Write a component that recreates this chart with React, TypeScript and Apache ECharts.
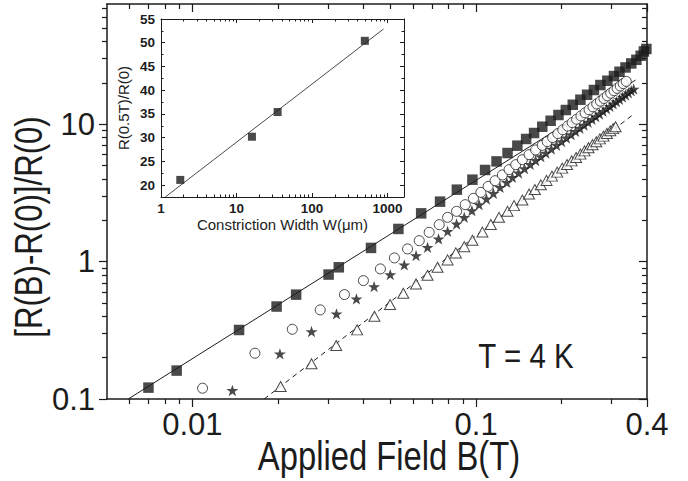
import React, { useEffect, useRef } from "react";
import * as echarts from "echarts";

// ---------- Main panel: applied field B (T) vs [R(B)-R(0)]/R(0) ----------
const squareB = [0.007, 0.0088, 0.0146, 0.0198, 0.0232, 0.0302, 0.0328, 0.0426, 0.0532, 0.064, 0.0746, 0.0855, 0.097, 0.1075, 0.118, 0.129, 0.1397, 0.15, 0.16, 0.171, 0.183, 0.195, 0.207, 0.219, 0.233, 0.246, 0.26, 0.274, 0.29, 0.306, 0.32, 0.336, 0.352, 0.367, 0.38, 0.39, 0.398];
const squareR = [0.121, 0.161, 0.318, 0.471, 0.575, 0.805, 0.909, 1.258, 1.729, 2.245, 2.732, 3.339, 3.948, 4.645, 5.363, 6.17, 6.98, 7.81, 8.63, 9.59, 10.6, 11.67, 12.69, 13.86, 15.08, 16.39, 17.74, 19.28, 20.72, 22.41, 24.09, 25.89, 27.69, 29.44, 31.5, 33.84, 35.3];

const circleB = [0.01086, 0.01661, 0.02249, 0.02821, 0.03434, 0.04005, 0.04597, 0.0515, 0.0573, 0.063, 0.0683, 0.0741, 0.0793, 0.0853, 0.0915, 0.0978, 0.1039, 0.1102, 0.1166, 0.1237, 0.1306, 0.1379, 0.1455, 0.1536, 0.162, 0.171, 0.178, 0.186, 0.194, 0.202, 0.21, 0.218, 0.226, 0.234, 0.242, 0.25, 0.258, 0.266, 0.274, 0.282, 0.29, 0.298, 0.306, 0.314, 0.322, 0.33, 0.338];
const circleR = [0.1198, 0.2153, 0.3218, 0.4454, 0.5754, 0.7275, 0.885, 1.064, 1.237, 1.421, 1.634, 1.858, 2.1, 2.322, 2.597, 2.887, 3.192, 3.528, 3.882, 4.271, 4.669, 5.076, 5.52, 6.0, 6.494, 7.014, 7.47, 8.0, 8.55, 9.11, 9.69, 10.27, 10.87, 11.49, 12.11, 12.74, 13.39, 14.05, 14.72, 15.4, 16.1, 16.8, 17.52, 18.24, 18.98, 19.73, 20.49];

const starB = [0.01383, 0.02034, 0.02629, 0.03219, 0.03785, 0.04368, 0.0498, 0.0558, 0.0614, 0.0674, 0.0737, 0.0793, 0.0853, 0.0908, 0.0966, 0.1024, 0.1087, 0.115, 0.1214, 0.1282, 0.1342, 0.141, 0.148, 0.155, 0.162, 0.169, 0.176, 0.184, 0.192, 0.2, 0.208, 0.216, 0.224, 0.232, 0.24, 0.248, 0.256, 0.264, 0.272, 0.28, 0.288, 0.296, 0.304, 0.312, 0.32, 0.328, 0.336, 0.344, 0.352, 0.359];
const starR = [0.1153, 0.2132, 0.3097, 0.4166, 0.5355, 0.658, 0.8045, 0.946, 1.106, 1.27, 1.463, 1.661, 1.88, 2.1, 2.349, 2.597, 2.858, 3.139, 3.47, 3.773, 4.103, 4.42, 4.75, 5.1, 5.45, 5.81, 6.17, 6.6, 7.03, 7.48, 7.94, 8.4, 8.87, 9.35, 9.84, 10.34, 10.84, 11.36, 11.88, 12.41, 12.95, 13.49, 14.05, 14.61, 15.17, 15.75, 16.33, 16.92, 17.52, 18.04];

const triangleB = [0.02046, 0.02629, 0.03212, 0.03806, 0.04379, 0.04972, 0.05536, 0.0614, 0.0674, 0.0731, 0.0793, 0.0848, 0.0908, 0.097, 0.1052, 0.1126, 0.1204, 0.129, 0.136, 0.1455, 0.1536, 0.161, 0.169, 0.177, 0.185, 0.193, 0.201, 0.209, 0.217, 0.225, 0.233, 0.241, 0.249, 0.257, 0.265, 0.273, 0.281, 0.289, 0.297, 0.304, 0.31];
const triangleR = [0.1233, 0.1803, 0.2449, 0.3186, 0.4001, 0.4867, 0.588, 0.688, 0.795, 0.909, 1.029, 1.157, 1.285, 1.43, 1.64, 1.86, 2.1, 2.322, 2.555, 2.81, 3.108, 3.35, 3.62, 3.9, 4.19, 4.48, 4.79, 5.09, 5.41, 5.73, 6.06, 6.4, 6.75, 7.1, 7.45, 7.82, 8.19, 8.57, 8.95, 9.29, 9.59];

const solidFitB = [0.00594, 0.3645];
const solidFitR = [0.1, 20.96];
const dashedFitB = [0.0179, 0.3594];
const dashedFitR = [0.1, 11.86];

const xTickValues = [0.01, 0.1, 0.4];
const xTickLabels = ["0.01", "0.1", "0.4"];
const xMinorTicks = [0.006, 0.007, 0.008, 0.009, 0.02, 0.03, 0.04, 0.05, 0.06, 0.07, 0.08, 0.09, 0.2, 0.3];
const yTickValues = [0.1, 1, 10];
const yTickLabels = ["0.1", "1", "10"];
const yMinorTicks = [0.2, 0.3, 0.4, 0.5, 0.6, 0.7, 0.8, 0.9, 2, 3, 4, 5, 6, 7, 8, 9, 20, 30, 40, 50, 60, 70];

// ---------- Inset: constriction width W (µm) vs R(0.5T)/R(0) ----------
const insetWidth = [1.8, 16, 35, 500];
const insetRatio = [21.1, 30.2, 35.4, 50.4];
const insetFitW = [1.14, 885];
const insetFitR = [17.5, 52.9];
const insetXTicks = [1, 10, 100, 1000];
const insetXLabels = ["1", "10", "100", "1000"];
const insetXMinor = [2, 3, 4, 5, 6, 7, 8, 9, 20, 30, 40, 50, 60, 70, 80, 90, 200, 300, 400, 500, 600, 700, 800, 900];
const insetYTicks = [20, 25, 30, 35, 40, 45, 50, 55];
const insetYMinor = [22.5, 27.5, 32.5, 37.5, 42.5, 47.5, 52.5];

const INK = "#1c1c1c";
const SANS = '"Liberation Sans", Arial, Helvetica, sans-serif';
const STAR = "path://M50,0 L61.8,35.1 L98.9,35.1 L69,57.3 L80.3,92.7 L50,71 L19.7,92.7 L31,57.3 L1.1,35.1 L38.2,35.1 Z";

const zip = (a: number[], b: number[]) => a.map((v, i) => [v, b[i]]);
const labelFor = (vals: number[], labels: string[]) => (v: number) => {
  const i = vals.findIndex((t) => Math.abs(t - v) <= Math.abs(t) * 1e-6);
  return i >= 0 ? labels[i] : "";
};

function makeAxis(o: any) {
  return {
    type: o.type,
    gridIndex: o.grid,
    position: o.position,
    min: o.min,
    max: o.max,
    logBase: 10,
    axisLine: { show: !!o.line, onZero: false, lineStyle: { color: INK, width: o.lineWidth || 1.5 } },
    axisTick: {
      show: true,
      customValues: o.ticks,
      length: o.len,
      inside: o.inside,
      lineStyle: { color: INK, width: o.tickWidth || 1.2 },
    },
    axisLabel: o.labels
      ? {
          show: true,
          customValues: o.labels.values,
          formatter: o.labels.formatter,
          margin: o.labels.margin,
          fontSize: o.labels.fontSize,
          fontFamily: SANS,
          fontWeight: o.labels.fontWeight || "normal",
          color: INK,
        }
      : { show: false },
    name: o.name || "",
    nameLocation: "middle",
    nameGap: o.nameGap,
    nameRotate: o.nameRotate,
    nameTextStyle: o.nameStyle,
    splitLine: { show: false },
    minorTick: { show: false },
    minorSplitLine: { show: false },
  };
}

export default function App() {
  const ref = useRef<HTMLDivElement>(null);

  useEffect(() => {
    const chart = echarts.init(ref.current!, null, { renderer: "svg" });

    const mainX = { type: "log", grid: 0, min: 0.005, max: 0.4 };
    const mainY = { type: "log", grid: 0, min: 0.1, max: 75 };
    const insX = { type: "log", grid: 1, min: 1, max: 1650 };
    const insY = { type: "value", grid: 1, min: 17.5, max: 55 };

    const xAxis = [
      makeAxis({ ...mainX, position: "bottom", ticks: xTickValues, len: 8, inside: false, line: true,
        labels: { values: xTickValues, formatter: labelFor(xTickValues, xTickLabels), margin: 10, fontSize: 31 } }),
      makeAxis({ ...mainX, position: "bottom", ticks: xMinorTicks, len: 5, inside: false }),
      makeAxis({ ...mainX, position: "top", ticks: xTickValues, len: 8, inside: true, line: true }),
      makeAxis({ ...mainX, position: "top", ticks: xMinorTicks, len: 5, inside: true }),
      makeAxis({ ...insX, position: "bottom", ticks: insetXTicks, len: 4, inside: true, line: true, lineWidth: 1, tickWidth: 1,
        labels: { values: insetXTicks, formatter: labelFor(insetXTicks, insetXLabels), margin: 4, fontSize: 13.5, fontWeight: "bold" },
        name: "Constriction Width W(μm)", nameGap: 20,
        nameStyle: { fontSize: 15, fontFamily: SANS, color: INK, verticalAlign: "top" } }),
      makeAxis({ ...insX, position: "bottom", ticks: insetXMinor, len: 2.5, inside: true, tickWidth: 1 }),
      makeAxis({ ...insX, position: "top", ticks: insetXTicks, len: 4, inside: true, line: true, lineWidth: 1, tickWidth: 1 }),
      makeAxis({ ...insX, position: "top", ticks: insetXMinor, len: 2.5, inside: true, tickWidth: 1 }),
    ];

    const yAxis = [
      makeAxis({ ...mainY, position: "left", ticks: yTickValues, len: 8, inside: false, line: true,
        labels: { values: yTickValues, formatter: labelFor(yTickValues, yTickLabels), margin: 12, fontSize: 31 } }),
      makeAxis({ ...mainY, position: "left", ticks: yMinorTicks, len: 5, inside: false }),
      makeAxis({ ...mainY, position: "right", ticks: yTickValues, len: 8, inside: true, line: true }),
      makeAxis({ ...mainY, position: "right", ticks: yMinorTicks, len: 5, inside: true }),
      makeAxis({ ...insY, position: "left", ticks: insetYTicks, len: 4, inside: true, line: true, lineWidth: 1, tickWidth: 1,
        labels: { values: insetYTicks, formatter: (v: number) => String(Math.round(v)), margin: 6, fontSize: 13.5, fontWeight: "bold" },
        name: "R(0.5T)/R(0)", nameGap: 30, nameRotate: 90,
        nameStyle: { fontSize: 15, fontFamily: SANS, color: INK } }),
      makeAxis({ ...insY, position: "left", ticks: insetYMinor, len: 2.5, inside: true, tickWidth: 1 }),
      makeAxis({ ...insY, position: "right", ticks: insetYTicks, len: 4, inside: true, line: true, lineWidth: 1, tickWidth: 1 }),
      makeAxis({ ...insY, position: "right", ticks: insetYMinor, len: 2.5, inside: true, tickWidth: 1 }),
    ];

    const option: any = {
      animation: false,
      backgroundColor: "#ffffff",
      grid: [
        { left: 107, top: 4, width: 540, height: 395, containLabel: false },
        { left: 161, top: 19, width: 243, height: 178, containLabel: false, show: true, backgroundColor: "#ffffff", borderWidth: 0 },
      ],
      xAxis,
      yAxis,
      series: [
        { type: "line", xAxisIndex: 0, yAxisIndex: 0, data: zip(solidFitB, solidFitR), showSymbol: false, symbol: "none",
          lineStyle: { color: INK, width: 1 }, z: 1 },
        { type: "line", xAxisIndex: 0, yAxisIndex: 0, data: zip(dashedFitB, dashedFitR), showSymbol: false, symbol: "none",
          lineStyle: { color: INK, width: 1, type: [5, 4] }, z: 1 },
        { type: "scatter", xAxisIndex: 0, yAxisIndex: 0, data: zip(squareB, squareR), symbol: "rect", symbolSize: 10.5,
          itemStyle: { color: INK }, z: 3 },
        { type: "scatter", xAxisIndex: 0, yAxisIndex: 0, data: zip(circleB, circleR), symbol: "circle", symbolSize: 10,
          itemStyle: { color: "#ffffff", borderColor: INK, borderWidth: 1 }, z: 3 },
        { type: "scatter", xAxisIndex: 0, yAxisIndex: 0, data: zip(starB, starR), symbol: STAR, symbolSize: 12, symbolKeepAspect: true,
          itemStyle: { color: INK }, z: 3 },
        { type: "scatter", xAxisIndex: 0, yAxisIndex: 0, data: zip(triangleB, triangleR), symbol: "triangle", symbolSize: [11, 10],
          itemStyle: { color: "#ffffff", borderColor: INK, borderWidth: 1 }, z: 3 },
        { type: "line", xAxisIndex: 4, yAxisIndex: 4, data: zip(insetFitW, insetFitR), showSymbol: false, symbol: "none",
          lineStyle: { color: INK, width: 0.8 }, z: 5 },
        { type: "scatter", xAxisIndex: 4, yAxisIndex: 4, data: zip(insetWidth, insetRatio), symbol: "rect", symbolSize: 8,
          itemStyle: { color: INK }, z: 6 },
      ],
      graphic: [
        { type: "text", x: 389, y: 456, scaleX: 0.82, style: { text: "Applied Field B(T)", fontSize: 40, fontFamily: SANS, fill: INK, align: "center", verticalAlign: "middle" } },
        { type: "text", x: 29, y: 227, rotation: Math.PI / 2, scaleX: 0.82, style: { text: "[R(B)-R(0)]/R(0)", fontSize: 38, fontFamily: SANS, fill: INK, align: "center", verticalAlign: "middle" } },
        { type: "text", x: 526, y: 355, scaleX: 0.82, style: { text: "T = 4 K", fontSize: 36, fontFamily: SANS, fill: INK, align: "center", verticalAlign: "middle" } },
      ],
    };

    chart.setOption(option);
    return () => chart.dispose();
  }, []);

  return <div ref={ref} style={{ position: "fixed", left: 0, top: 0, width: 688, height: 481 }} />;
}
